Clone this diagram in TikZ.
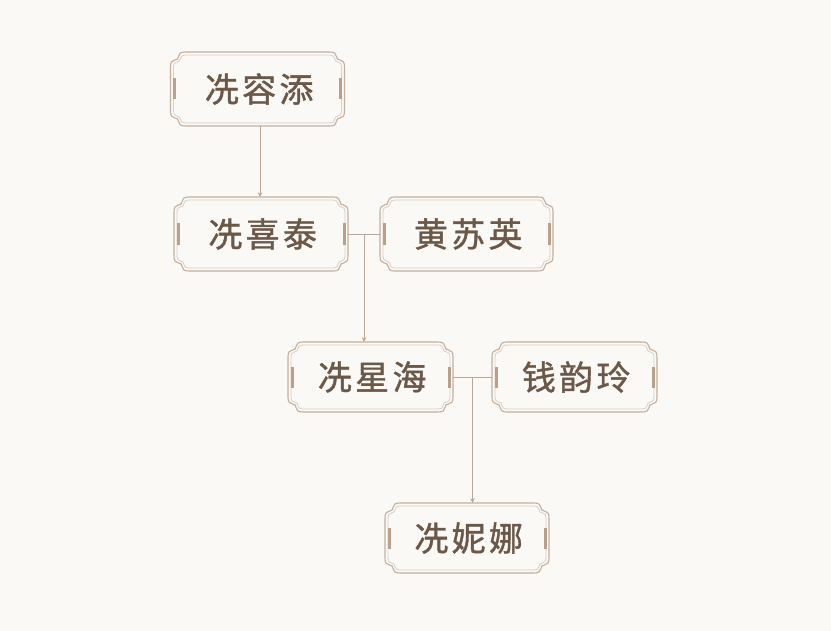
\documentclass[tikz,border=0pt]{standalone}
\usepackage{fontspec}
\setmainfont{Noto Sans CJK SC}
\newfontfamily\namefont[FakeBold=1.2,LetterSpace=10]{Noto Sans CJK SC}
\usetikzlibrary{arrows.meta,calc}
\definecolor{bg}{HTML}{FAF9F5}
\definecolor{frame}{HTML}{C4AE9C}
\definecolor{frameinner}{HTML}{DCCEC2}
\definecolor{barc}{HTML}{B8A08D}
\definecolor{linec}{HTML}{BBA593}
\definecolor{textc}{HTML}{6B5848}
\tikzset{
  tk/.style={shape=rectangle,inner sep=0pt,text=textc,font=\namefont\fontsize{34}{34}\selectfont},
  outerframe/.style={draw=frame,line width=1.1bp},
  innerframe/.style={draw=frameinner,line width=0.8bp},
  sidebar/.style={fill=barc},
  conn/.style={draw=linec,line width=0.9bp},
  arr/.style={conn,-{Stealth[length=4.5bp,width=4.5bp]}}
}
% notched frame path: X0 Y0 X1 Y1 s
\newcommand\tkpath[5]{%
 ({#1+15*#5},{#4})
 .. controls ({#1+10.5*#5},{#4}) and ({#1+8*#5},{#4-1.5*#5}) .. ({#1+8*#5},{#4-4.5*#5})
 .. controls ({#1+8*#5},{#4-6.8*#5}) and ({#1+6.8*#5},{#4-8*#5}) .. ({#1+4.5*#5},{#4-8*#5})
 .. controls ({#1+1.5*#5},{#4-8*#5}) and ({#1},{#4-10.5*#5}) .. ({#1},{#4-15*#5})
 -- ({#1},{#2+15*#5})
 .. controls ({#1},{#2+10.5*#5}) and ({#1+1.5*#5},{#2+8*#5}) .. ({#1+4.5*#5},{#2+8*#5})
 .. controls ({#1+6.8*#5},{#2+8*#5}) and ({#1+8*#5},{#2+6.8*#5}) .. ({#1+8*#5},{#2+4.5*#5})
 .. controls ({#1+8*#5},{#2+1.5*#5}) and ({#1+10.5*#5},{#2}) .. ({#1+15*#5},{#2})
 -- ({#3-15*#5},{#2})
 .. controls ({#3-10.5*#5},{#2}) and ({#3-8*#5},{#2+1.5*#5}) .. ({#3-8*#5},{#2+4.5*#5})
 .. controls ({#3-8*#5},{#2+6.8*#5}) and ({#3-6.8*#5},{#2+8*#5}) .. ({#3-4.5*#5},{#2+8*#5})
 .. controls ({#3-1.5*#5},{#2+8*#5}) and ({#3},{#2+10.5*#5}) .. ({#3},{#2+15*#5})
 -- ({#3},{#4-15*#5})
 .. controls ({#3},{#4-10.5*#5}) and ({#3-1.5*#5},{#4-8*#5}) .. ({#3-4.5*#5},{#4-8*#5})
 .. controls ({#3-6.8*#5},{#4-8*#5}) and ({#3-8*#5},{#4-6.8*#5}) .. ({#3-8*#5},{#4-4.5*#5})
 .. controls ({#3-8*#5},{#4-1.5*#5}) and ({#3-10.5*#5},{#4}) .. ({#3-15*#5},{#4})
 -- cycle}
% name cx cy w h text
\newcommand\ticket[6]{%
 \path[outerframe] \tkpath{#2-#4/2}{#3-#5/2}{#2+#4/2}{#3+#5/2}{1};
 \path[innerframe] \tkpath{#2-#4/2+3}{#3-#5/2+3}{#2+#4/2-3}{#3+#5/2-3}{0.85};
 \fill[sidebar] ({#2-#4/2+2.5},{#3-10.5}) rectangle ++(3,21);
 \fill[sidebar] ({#2+#4/2-5.5},{#3-10.5}) rectangle ++(3,21);
 \node[tk,minimum width=#4 bp,minimum height=#5 bp] (#1) at (#2,#3) {\hspace*{3.4bp}#6};
}
\begin{document}
\begin{tikzpicture}[x=1bp,y=-1bp]
\fill[bg] (0,0) rectangle (831,631);
\useasboundingbox (0,0) rectangle (831,631);
\ticket{n1}{257.5}{89}{174}{74}{冼容添}
\ticket{n2}{261}{234}{174}{74}{冼喜泰}
\ticket{n3}{466.5}{234}{173}{74}{黄苏英}
\ticket{n4}{370.5}{377}{165}{70}{冼星海}
\ticket{n5}{574.5}{377}{165}{70}{钱韵玲}
\ticket{n6}{467}{538}{164}{70}{冼妮娜}
% connectors
\draw[arr] ([xshift=-1bp]n2.north |- n1.south) -- ([xshift=-1bp]n2.north);
\draw[conn] (n2.east) -- (n3.west) coordinate[midway] (m1);
\draw[arr] (m1) -- (m1 |- n4.north);
\draw[conn] (n4.east) -- (n5.west) coordinate[midway] (m2);
\draw[arr] (m2) -- (m2 |- n6.north);
\end{tikzpicture}
\end{document}
